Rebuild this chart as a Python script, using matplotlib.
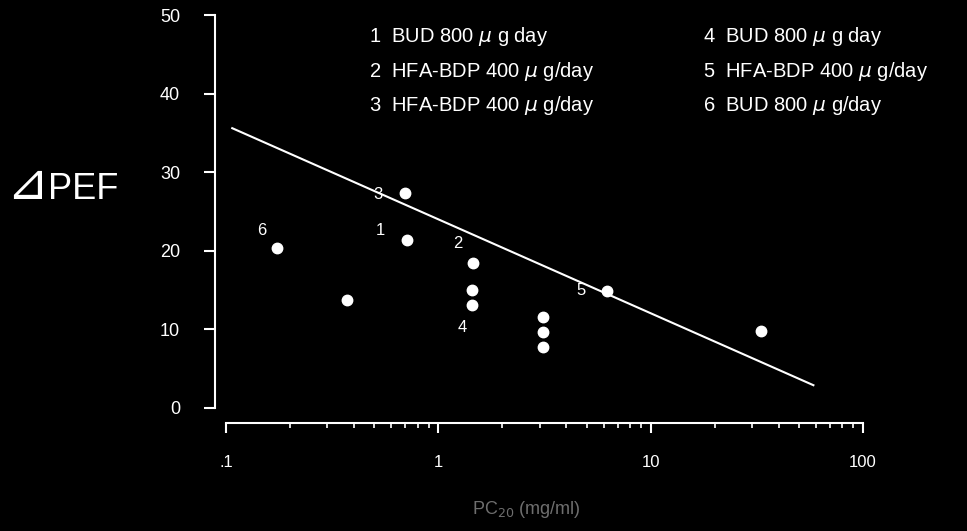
import matplotlib
matplotlib.use('Agg')
import matplotlib.pyplot as plt

# PC20 (mg/ml) vs change in PEF
pc20 = [0.174, 0.372, 0.697, 0.713, 1.457, 1.44, 1.44, 3.10, 3.10, 3.10, 6.26, 33.0]
dpef = [20.3, 13.8, 27.3, 21.4, 18.5, 15.0, 13.1, 11.6, 9.7, 7.7, 14.9, 9.8]

# regression line end points
fit_x = [0.107, 58.4]
fit_y = [35.6, 2.9]

# numbered study labels next to the points
label_ids = ['3', '1', '6', '2', '4', '5']
label_x = [0.522, 0.533, 0.147, 1.24, 1.30, 4.71]
label_y = [27.1, 22.6, 22.6, 20.9, 10.2, 15.0]

legend_left = ['1  BUD 800 $\\mu$ g day', '2  HFA-BDP 400 $\\mu$ g/day', '3  HFA-BDP 400 $\\mu$ g/day']
legend_right = ['4  BUD 800 $\\mu$ g day', '5  HFA-BDP 400 $\\mu$ g/day', '6  BUD 800 $\\mu$ g/day']

xticks = [0.1, 1, 10, 100]
xticklabels = ['.1', '1', '10', '100']
yticks = [0, 10, 20, 30, 40, 50]

W, H = 967, 531
FONT = ['Liberation Sans', 'DejaVu Sans']
plt.rcParams['font.family'] = FONT
plt.rcParams['mathtext.fontset'] = 'dejavusans'


def fx(px):
    return px / W


def fy(py):
    return 1 - py / H


fig = plt.figure(figsize=(W / 100, H / 100), dpi=100, facecolor='black')
ax = fig.add_axes([fx(226), fy(408), (863 - 226) / W, (408 - 15) / H])
ax.set_facecolor('black')

ax.plot(fit_x, fit_y, color='white', lw=1.5)
ax.plot(pc20, dpef, 'o', color='white', ms=7.5, mec='white')

for t, x, y in zip(label_ids, label_x, label_y):
    ax.text(x, y, t, color='white', fontsize=12, ha='center', va='center')

ax.set_xscale('log')
ax.set_xlim(0.1, 100)
ax.set_ylim(0, 50)
ax.set_xticks(xticks)
ax.set_xticklabels(xticklabels)
ax.set_yticks(yticks)

for s in ['top', 'right']:
    ax.spines[s].set_visible(False)
ax.spines['left'].set_position(('outward', 8))
ax.spines['bottom'].set_position(('outward', 11))
for s in ['left', 'bottom']:
    ax.spines[s].set_color('white')
    ax.spines[s].set_linewidth(1.5)

ax.tick_params(axis='y', which='major', length=8, width=1.5, colors='white',
               labelsize=13, pad=17)
ax.tick_params(axis='x', which='major', length=7, width=1.5, colors='white',
               labelsize=12, pad=16)
ax.tick_params(axis='x', which='minor', length=3.5, width=1.2, colors='white')

# y axis label sits horizontally to the left; triangle drawn bigger than the letters
fig.text(fx(6), fy(199), '\u22bf', color='white', fontsize=36,
         ha='left', va='baseline', family=['DejaVu Sans'])
fig.text(fx(48), fy(199), 'PEF', color='white', fontsize=26,
         ha='left', va='baseline')
fig.text(fx(526), fy(510), 'PC$_{20}$ (mg/ml)', color='#6e6e6e', fontsize=13,
         ha='center', va='center')

rows = [36, 71, 105]
for txt, r in zip(legend_left, rows):
    fig.text(fx(369), fy(r), txt, color='white', fontsize=14.5, ha='left', va='center')
for txt, r in zip(legend_right, rows):
    fig.text(fx(703), fy(r), txt, color='white', fontsize=14.5, ha='left', va='center')

fig.savefig('out.png', dpi=100, facecolor='black')
